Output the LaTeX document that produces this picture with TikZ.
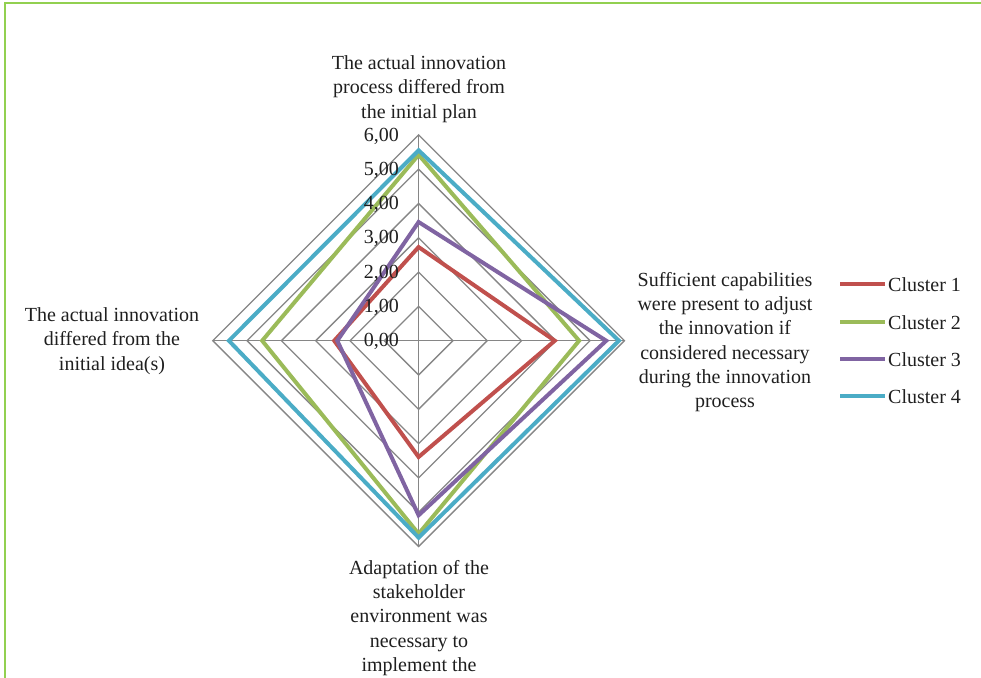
\documentclass[tikz,border=0pt]{standalone}
\usepackage{fontspec}
\setmainfont{Liberation Serif}
\usetikzlibrary{calc}

\definecolor{framegreen}{HTML}{92D050}
\definecolor{gridgray}{HTML}{868686}
\definecolor{cOne}{HTML}{C0504D}
\definecolor{cTwo}{HTML}{9BBB59}
\definecolor{cThree}{HTML}{8064A2}
\definecolor{cFour}{HTML}{4BACC6}

% centre of the radar and length of one unit
\def\cx{418.6}
\def\cy{340.7}
\def\un{34.3}

% one series: name, colour, top, right, bottom, left values
\newcommand\radarseries[6]{%
  \coordinate (#1t) at ({\cx},{\cy-\un*#3});
  \coordinate (#1r) at ({\cx+\un*#4},{\cy});
  \coordinate (#1b) at ({\cx},{\cy+\un*#5});
  \coordinate (#1l) at ({\cx-\un*#6},{\cy});
  \draw[series,draw=#2] (#1t) -- (#1r) -- (#1b) -- (#1l) -- cycle;
}

\begin{document}
\begin{tikzpicture}[x=1pt,y=-1pt,
  gridline/.style={draw=gridgray,line width=1.3pt},
  series/.style={line width=4pt,line join=miter},
  txt/.style={font=\fontsize{20}{24.3}\selectfont,align=center,inner sep=0pt,text=black!88},
  tick/.style={font=\fontsize{20}{22}\selectfont,inner sep=0pt,anchor=east,text=black!88},
  legline/.style={line width=4pt}]
\useasboundingbox (0,0) rectangle (981,677);

% outer frame
\draw[framegreen,line width=2pt] (5,690) -- (5,3) -- (990,3);

% grid diamonds
\foreach \k in {1,...,6}
  \draw[gridline] ({\cx},{\cy-\un*\k}) -- ({\cx+\un*\k},{\cy}) -- ({\cx},{\cy+\un*\k}) -- ({\cx-\un*\k},{\cy}) -- cycle;

% axes
\coordinate (O) at ({\cx},{\cy});
\coordinate (T) at ({\cx},{\cy-\un*6});
\coordinate (R) at ({\cx+\un*6},{\cy});
\coordinate (B) at ({\cx},{\cy+\un*6});
\coordinate (L) at ({\cx-\un*6},{\cy});
\draw[gridline] (O) -- (T) (O) -- (R) (O) -- (B) (O) -- (L);

% data series
\radarseries{one}{cOne}{2.73}{3.97}{3.39}{2.46}
\radarseries{two}{cTwo}{5.42}{4.68}{5.63}{4.56}
\radarseries{three}{cThree}{3.46}{5.47}{5.09}{2.37}
\radarseries{four}{cFour}{5.55}{5.84}{5.74}{5.53}

% scale labels
\foreach \k in {0,...,6}
  \node[tick] (tk\k) at (399,{\cy-\un*\k+1}) {\k,00};

% axis titles
\node[txt] (ttop) at (419,89) {The actual innovation\\process differed from\\the initial plan};
\node[txt] (tright) at (725,342) {Sufficient capabilities\\were present to adjust\\the innovation if\\considered necessary\\during the innovation\\process};
\node[txt] (tleft) at (112,341) {The actual innovation\\differed from the\\initial idea(s)};
\node[txt] (tbottom) at (419,618) {Adaptation of the\\stakeholder\\environment was\\necessary to\\implement the};

% legend
\foreach \i/\c/\y in {1/cOne/284,2/cTwo/321.5,3/cThree/359,4/cFour/396}{
  \coordinate (la\i) at (840,\y);
  \coordinate (lb\i) at (885,\y);
  \draw[legline,\c] (la\i) -- (lb\i);
  \node[txt,anchor=west] (lt\i) at (888,{\y+1}) {Cluster \i};
}
\end{tikzpicture}
\end{document}
